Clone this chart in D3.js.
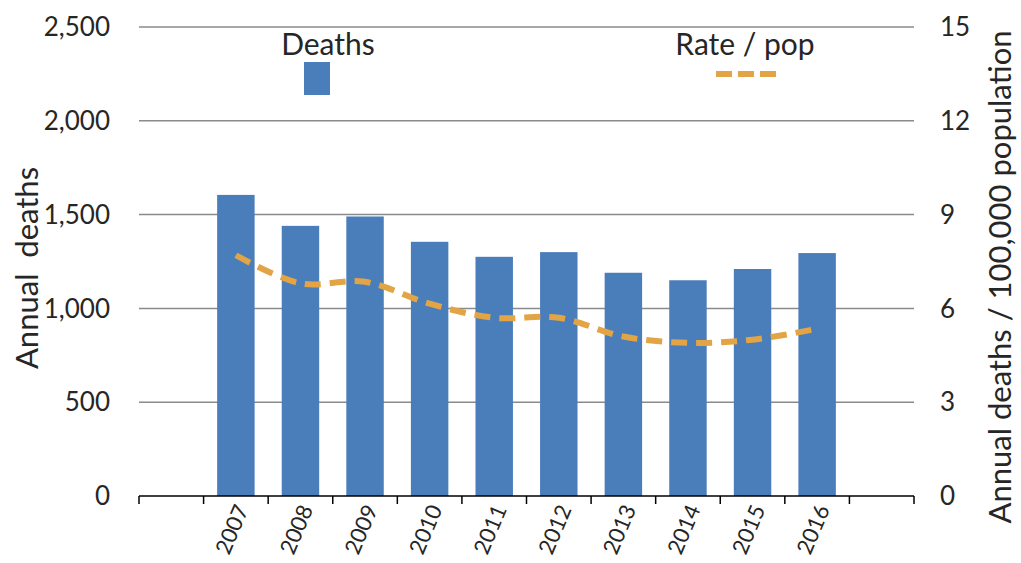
<!DOCTYPE html>
<html>
<head>
<meta charset="utf-8">
<script src="https://cdn.jsdelivr.net/npm/d3@7"></script>
<style>
  html, body { margin: 0; padding: 0; background: #fff; }
  svg { display: block; font-family: Lato, "Open Sans", sans-serif; }
</style>
</head>
<body>
<svg id="chart" width="1021" height="563"></svg>
<script>
// Annual deaths (bars, left axis) and rate per 100,000 population (dashed line, right axis)
const years = ["2007", "2008", "2009", "2010", "2011", "2012", "2013", "2014", "2015", "2016"];
const deaths = [1605, 1440, 1490, 1355, 1275, 1300, 1190, 1150, 1210, 1295];
const ratePerPop = [7.7, 6.8, 6.85, 6.15, 5.7, 5.7, 5.1, 4.9, 5.0, 5.35];
const leftTicks = [0, 500, 1000, 1500, 2000, 2500];
const rightTicks = [0, 3, 6, 9, 12, 15];

// Slots on the category axis: one empty slot before and after the years
const slots = ["_pre", ...years, "_post"];

const svg = d3.select("#chart");
const plot = { left: 139, right: 914, top: 27, bottom: 496 };

const x = d3.scaleBand().domain(slots).range([plot.left, plot.right]).paddingInner(0.42).paddingOuter(0.21);
const xStep = (plot.right - plot.left) / slots.length;
const yL = d3.scaleLinear().domain([0, 2500]).range([plot.bottom, plot.top]);
const yR = d3.scaleLinear().domain([0, 15]).range([plot.bottom, plot.top]);

const textColor = "#262626";
const barColor = "#4a7ebb";
const lineColor = "#e2a444";

// Horizontal gridlines
svg.append("g")
  .selectAll("line")
  .data(leftTicks.filter(d => d > 0))
  .join("line")
  .attr("x1", plot.left).attr("x2", plot.right)
  .attr("y1", d => yL(d)).attr("y2", d => yL(d))
  .attr("stroke", "#8a8a8a").attr("stroke-width", 1.5);

// Bars
svg.append("g")
  .selectAll("rect")
  .data(years.map((y, i) => ({ year: y, value: deaths[i] })))
  .join("rect")
  .attr("x", d => x(d.year))
  .attr("width", x.bandwidth())
  .attr("y", d => yL(d.value))
  .attr("height", d => plot.bottom - yL(d.value))
  .attr("fill", barColor);

// Rate line (smoothed, dashed)
const line = d3.line()
  .x((d, i) => x(years[i]) + x.bandwidth() / 2)
  .y(d => yR(d))
  .curve(d3.curveCatmullRom.alpha(0.5));

svg.append("path")
  .datum(ratePerPop)
  .attr("d", line)
  .attr("fill", "none")
  .attr("stroke", lineColor)
  .attr("stroke-width", 6)
  .attr("stroke-dasharray", "16,9");

// Bottom axis with tick marks at slot boundaries
const bottomAxis = svg.append("g");
bottomAxis.append("line")
  .attr("x1", plot.left).attr("x2", plot.right)
  .attr("y1", plot.bottom).attr("y2", plot.bottom)
  .attr("stroke", "#000").attr("stroke-width", 1.5);
bottomAxis.selectAll("line.tick")
  .data(d3.range(slots.length + 1))
  .join("line")
  .attr("class", "tick")
  .attr("x1", i => plot.left + i * xStep).attr("x2", i => plot.left + i * xStep)
  .attr("y1", plot.bottom).attr("y2", plot.bottom + 8)
  .attr("stroke", "#000").attr("stroke-width", 1.5);

// Year labels, rotated
bottomAxis.selectAll("text")
  .data(years)
  .join("text")
  .attr("transform", d => `translate(${x(d) + x.bandwidth() / 2 + 6},${plot.bottom + 10}) rotate(-67)`)
  .attr("text-anchor", "end")
  .attr("dy", "0.35em")
  .attr("font-size", 22)
  .attr("fill", textColor)
  .text(d => d);

// Left axis labels
const fmt = d3.format(",");
svg.append("g")
  .selectAll("text")
  .data(leftTicks)
  .join("text")
  .attr("x", 110)
  .attr("y", d => yL(d))
  .attr("dy", "0.35em")
  .attr("text-anchor", "end")
  .attr("font-size", 26)
  .attr("fill", textColor)
  .text(d => fmt(d));

// Right axis labels
svg.append("g")
  .selectAll("text")
  .data(rightTicks)
  .join("text")
  .attr("x", 940)
  .attr("y", d => yR(d))
  .attr("dy", "0.35em")
  .attr("text-anchor", "start")
  .attr("font-size", 26)
  .attr("fill", textColor)
  .text(d => d);

// Axis titles
svg.append("text")
  .attr("transform", `translate(38,268) rotate(-90)`)
  .attr("text-anchor", "middle")
  .attr("font-size", 31)
  .attr("fill", textColor)
  .attr("xml:space", "preserve")
  .style("white-space", "pre")
  .text("Annual  deaths");

svg.append("text")
  .attr("transform", `translate(1011,277) rotate(-90)`)
  .attr("text-anchor", "middle")
  .attr("font-size", 31)
  .attr("fill", textColor)
  .text("Annual deaths / 100,000 population");

// Legend
const legend = svg.append("g");
legend.append("text")
  .attr("x", 328).attr("y", 55)
  .attr("text-anchor", "middle")
  .attr("font-size", 30)
  .attr("fill", textColor)
  .text("Deaths");
legend.append("rect")
  .attr("x", 304).attr("y", 62)
  .attr("width", 26).attr("height", 33)
  .attr("fill", barColor);
legend.append("text")
  .attr("x", 745).attr("y", 55)
  .attr("text-anchor", "middle")
  .attr("font-size", 30)
  .attr("fill", textColor)
  .text("Rate / pop");
legend.append("line")
  .attr("x1", 716).attr("x2", 776)
  .attr("y1", 74).attr("y2", 74)
  .attr("stroke", lineColor)
  .attr("stroke-width", 6)
  .attr("stroke-dasharray", "16,6");
</script>
</body>
</html>
